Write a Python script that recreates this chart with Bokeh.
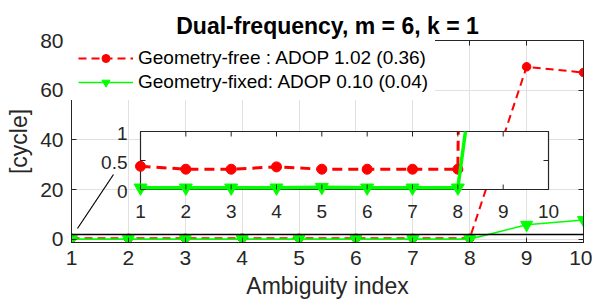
import math
from bokeh.plotting import figure
from bokeh.models import (Range1d, FixedTicker, LinearAxis, BoxAnnotation, Legend,
                          LegendItem, ColumnDataSource)
from bokeh.core.properties import value
from bokeh.embed import file_html
from bokeh.resources import INLINE

# ---------------- data ----------------
idx = [1, 2, 3, 4, 5, 6, 7, 8, 9, 10]
geom_free = [0.40, 0.35, 0.35, 0.39, 0.35, 0.35, 0.35, 0.35, 69.4, 67.1]
geom_fixed = [0.03, 0.03, 0.03, 0.03, 0.04, 0.03, 0.03, 0.03, 5.8, 7.7]

title_text = "Dual-frequency, m = 6, k = 1"
x_label = "Ambiguity index"
y_label = "[cycle]"
legend_free = "Geometry-free : ADOP 1.02 (0.36)"
legend_fixed = "Geometry-fixed: ADOP 0.10 (0.04)"

x_ticks = [1, 2, 3, 4, 5, 6, 7, 8, 9, 10]
y_ticks = [0, 20, 40, 60, 80]
x_lim = (1, 10)
y_lim = (-1.33, 80)

inset_x_ticks = [1, 2, 3, 4, 5, 6, 7, 8, 9, 10]
inset_y_ticks = [0, 0.5, 1]
inset_y_labels = ["0", "0.5", "1"]
inset_x_lim = (1, 10)
inset_y_lim = (0, 1)
# where the inset axes sit, in the main axes' data units
inset_box = dict(x0=2.213, x1=9.385, y0=20.0, y1=43.36)

# zoom rectangle and connector line (main axes' data units)
zoom_left, zoom_right, zoom_bottom, zoom_top = 0.93, 10.09, -1.6, 1.9
connector_x = [1.105, 1.738]
connector_y = [4.3, 26.05]

FONT = "Liberation Sans"
AX = "#262626"
GRID = "#e1e1e1"
RED = "#ff0000"
GREEN = "#00ff00"

# ---------------- main figure ----------------
p = figure(width=592, height=301, output_backend="svg", toolbar_location=None,
           x_range=Range1d(*x_lim), y_range=Range1d(*y_lim),
           min_border_left=71, min_border_right=9, min_border_top=40,
           min_border_bottom=59, x_axis_location=None, y_axis_location=None,
           background_fill_color="white", border_fill_color="white",
           outline_line_color=AX, outline_line_width=1)

p.title.text = title_text
p.title.text_font = FONT
p.title.text_font_size = "23px"
p.title.text_font_style = "bold"
p.title.text_color = "black"
p.title.align = "center"
p.title.standoff = 3


def style_axis(ax, labels=True, standoff=6):
    ax.major_tick_in = 5
    ax.major_tick_out = 0
    ax.minor_tick_in = 0
    ax.minor_tick_out = 0
    ax.axis_line_color = AX
    ax.major_tick_line_color = AX
    ax.major_label_text_font = FONT
    ax.major_label_text_font_size = "21px" if labels else "1px"
    ax.major_label_text_color = AX if labels else None
    ax.major_label_standoff = standoff if labels else 0
    ax.axis_label_text_font = FONT
    ax.axis_label_text_font_size = "23px"
    ax.axis_label_text_font_style = "normal"
    ax.axis_label_text_color = AX


xb = LinearAxis(ticker=FixedTicker(ticks=x_ticks), axis_label=x_label)
style_axis(xb, standoff=8)
xb.axis_label_standoff = 5
p.add_layout(xb, "below")
yl = LinearAxis(ticker=FixedTicker(ticks=y_ticks), axis_label=y_label)
style_axis(yl, standoff=8)
yl.axis_label_standoff = 5
p.add_layout(yl, "left")
xt = LinearAxis(ticker=FixedTicker(ticks=x_ticks))
style_axis(xt, labels=False)
p.add_layout(xt, "above")
yr = LinearAxis(ticker=FixedTicker(ticks=y_ticks))
style_axis(yr, labels=False)
p.add_layout(yr, "right")

p.xgrid.ticker = FixedTicker(ticks=x_ticks)
p.ygrid.ticker = FixedTicker(ticks=y_ticks)
p.xgrid.grid_line_color = GRID
p.ygrid.grid_line_color = GRID

src = ColumnDataSource(dict(x=idx, free=geom_free, fixed=geom_fixed))
r_free = p.line("x", "free", source=src, line_color=RED, line_dash="8 5", line_width=2)
s_free = p.scatter("x", "free", source=src, marker="circle", size=8.5,
                   fill_color=RED, line_color=RED)
r_fixed = p.line("x", "fixed", source=src, line_color=GREEN, line_width=1.6)
s_fixed = p.scatter("x", "fixed", source=src, marker="inverted_triangle", size=12,
                    fill_color=GREEN, line_color=GREEN)

p.line(connector_x, connector_y, line_color="black", line_width=1.2)
p.add_layout(BoxAnnotation(left=zoom_left, right=zoom_right, bottom=zoom_bottom,
                           top=zoom_top, fill_alpha=0, line_color="black",
                           line_alpha=1, line_width=1.5))

legend = Legend(items=[LegendItem(label=legend_free, renderers=[r_free, s_free]),
                       LegendItem(label=legend_fixed, renderers=[r_fixed, s_fixed])],
                location="top_left", margin=0, padding=7, spacing=2,
                glyph_width=55, glyph_height=20, label_standoff=5,
                label_text_font=FONT, label_text_font_size="19px",
                label_text_color="black", background_fill_color="white",
                background_fill_alpha=1, border_line_alpha=0)
p.add_layout(legend)

# ---------------- inset axes (own scales mapped into the main frame) ----------------
bx = (inset_box["x1"] - inset_box["x0"]) / (inset_x_lim[1] - inset_x_lim[0])
ax0 = inset_box["x0"] - bx * inset_x_lim[0]
by = (inset_box["y1"] - inset_box["y0"]) / (inset_y_lim[1] - inset_y_lim[0])
ay0 = inset_box["y0"] - by * inset_y_lim[0]
p.extra_x_ranges = {"ix": Range1d((x_lim[0] - ax0) / bx, (x_lim[1] - ax0) / bx)}
p.extra_y_ranges = {"iy": Range1d((y_lim[0] - ay0) / by, (y_lim[1] - ay0) / by)}
IN = dict(x_range_name="ix", y_range_name="iy")

# inset background + box
p.quad(left=[inset_x_lim[0]], right=[inset_x_lim[1]], bottom=[inset_y_lim[0]],
       top=[inset_y_lim[1]], fill_color="white", line_color=AX, line_width=1.2, **IN)


def clip_above(xs, ys, ymax):
    """polyline clipped to y <= ymax (what the inset axes would show)"""
    cx, cy = [], []
    for i in range(len(xs)):
        if ys[i] <= ymax:
            cx.append(xs[i]); cy.append(ys[i])
        if i + 1 < len(xs) and (ys[i] - ymax) * (ys[i + 1] - ymax) < 0:
            t = (ymax - ys[i]) / (ys[i + 1] - ys[i])
            cx.append(xs[i] + t * (xs[i + 1] - xs[i])); cy.append(ymax)
            if ys[i + 1] > ymax:
                cx.append(float("nan")); cy.append(float("nan"))
    return cx, cy


fx, fy = clip_above(idx, geom_free, inset_y_lim[1])
gx, gy = clip_above(idx, geom_fixed, inset_y_lim[1])
in_free = [(x, y) for x, y in zip(idx, geom_free) if inset_y_lim[0] <= y <= inset_y_lim[1]]
in_fixed = [(x, y) for x, y in zip(idx, geom_fixed) if inset_y_lim[0] <= y <= inset_y_lim[1]]

p.line(fx, fy, line_color=RED, line_dash="10 6", line_width=3, **IN)
p.scatter([a for a, _ in in_free], [b for _, b in in_free], marker="circle", size=10,
          fill_color=RED, line_color=RED, **IN)
p.line(gx, gy, line_color=GREEN, line_width=3.5, **IN)
p.scatter([a for a, _ in in_fixed], [b for _, b in in_fixed], marker="inverted_triangle",
          size=13, fill_color=GREEN, line_color=GREEN, **IN)

# inset ticks (inward, all four sides)
nx, ny = len(inset_x_ticks), len(inset_y_ticks)
tick = dict(length=5, length_units="screen", line_color=AX, line_width=1, **IN)
p.ray(x=inset_x_ticks, y=[inset_y_lim[0]] * nx, angle=math.pi / 2, **tick)
p.ray(x=inset_x_ticks, y=[inset_y_lim[1]] * nx, angle=-math.pi / 2, **tick)
p.ray(x=[inset_x_lim[0]] * ny, y=inset_y_ticks, angle=0, **tick)
p.ray(x=[inset_x_lim[1]] * ny, y=inset_y_ticks, angle=math.pi, **tick)

# inset tick labels
p.text(x=inset_x_ticks, y=[inset_y_lim[0]] * nx, text=[str(t) for t in inset_x_ticks],
       x_offset=0, y_offset=22, text_align="center", text_baseline="middle",
       text_font=value(FONT), text_font_size="19px", text_color=AX, **IN)
p.text(x=[inset_x_lim[0]] * ny, y=inset_y_ticks, text=inset_y_labels,
       x_offset=-13, y_offset=2, text_align="right", text_baseline="middle",
       text_font=value(FONT), text_font_size="19px", text_color=AX, **IN)

open("out.html", "w").write(file_html(p, INLINE))
